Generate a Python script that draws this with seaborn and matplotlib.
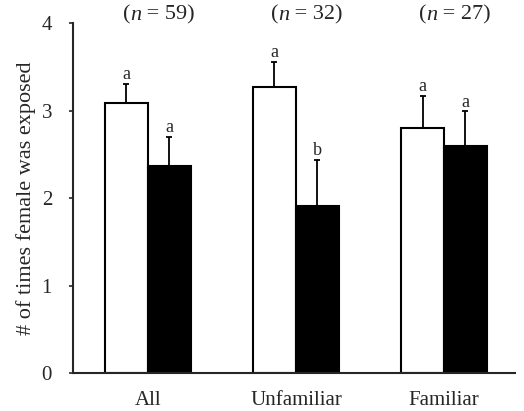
import numpy as np
import pandas as pd
import seaborn as sns
import matplotlib.pyplot as plt

# values
groups = ["All", "Unfamiliar", "Familiar"]
conditions = ["open", "filled"]
means_open = [3.09, 3.27, 2.80]
means_filled = [2.37, 1.91, 2.60]
err_open = [0.21, 0.29, 0.37]
err_filled = [0.33, 0.53, 0.39]
letters_open = ["a", "a", "a"]
letters_filled = ["a", "b", "a"]
n_labels = ["59", "32", "27"]

df = pd.DataFrame({
    "group": groups * 2,
    "cond": [conditions[0]] * 3 + [conditions[1]] * 3,
    "mean": means_open + means_filled,
})

sns.set_style("ticks")
plt.rcParams['font.family'] = ['Liberation Serif', 'DejaVu Serif']

fig = plt.figure(figsize=(5.24, 4.11), dpi=100)
ax = fig.add_axes([0.139, 0.092, 0.844, 0.852])

sns.barplot(data=df, x="group", y="mean", hue="cond", order=groups,
            hue_order=conditions, palette=["white", "black"], width=0.58,
            edgecolor="black", linewidth=1.5, errorbar=None, legend=False,
            saturation=1, ax=ax)

# error bars (upper only) and significance letters
bars = [p for p in ax.patches if p.get_height() > 0]
heights = means_open + means_filled
errs = err_open + err_filled
letters = letters_open + letters_filled
for p in bars:
    h = p.get_height()
    i = int(np.argmin([abs(h - v) for v in heights]))
    x = p.get_x() + p.get_width() / 2
    e = errs[i]
    ax.errorbar(x, h, yerr=[[0], [e]], fmt='none', ecolor='black',
                elinewidth=1.3, capsize=2.5, capthick=1.3, zorder=3)
    ax.text(x, h + e + 0.01, letters[i], ha='center', va='bottom', fontsize=13)

# sample sizes above each group: "(n = 59)" with italic n
for k, n in enumerate(n_labels):
    anchor = k - 0.12
    ax.text(anchor, 4.09, "(", ha='right', va='center', fontsize=16, clip_on=False)
    t = ax.annotate("n", xy=(anchor, 4.09), xycoords='data', ha='left', va='center',
                    fontsize=16, style='italic', annotation_clip=False)
    ax.annotate(" = " + n + ")", xy=(1, 0.5), xycoords=t, ha='left', va='center',
                fontsize=16, annotation_clip=False)

ax.set_ylim(0, 4)
ax.set_xlim(-0.507, 2.48)
ax.set_yticks([0, 1, 2, 3, 4])
ax.tick_params(axis='y', labelsize=15, length=3, width=1.2, pad=12)
ax.tick_params(axis='x', labelsize=15, length=0, pad=13)
ax.set_xlabel("")
ax.set_ylabel("# of times female was exposed", fontsize=16, labelpad=4)
for s in ["top", "right"]:
    ax.spines[s].set_visible(False)
ax.spines["left"].set_linewidth(1.5)
ax.spines["bottom"].set_linewidth(1.5)

plt.savefig("out.png", dpi=100)
